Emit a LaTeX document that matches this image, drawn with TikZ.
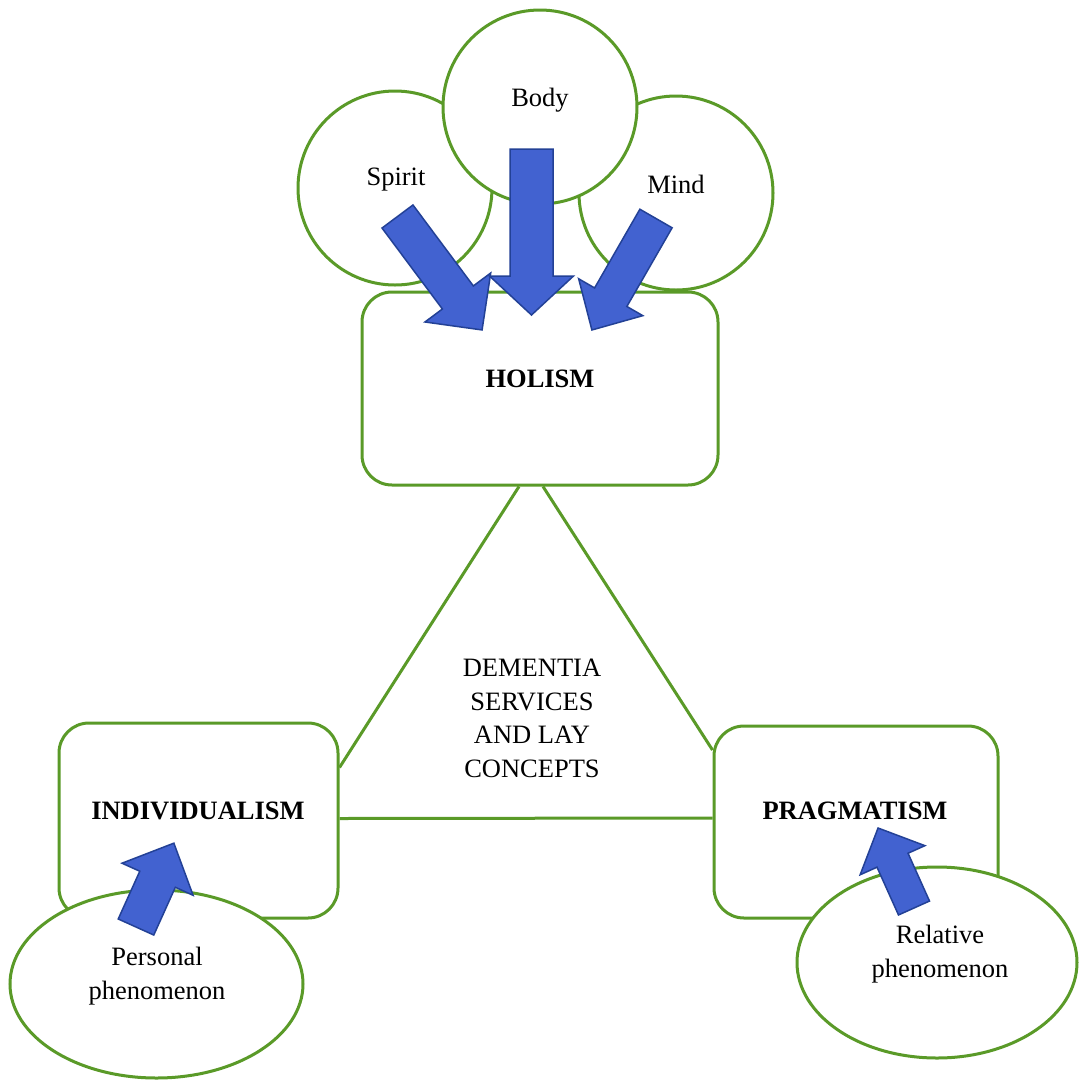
\documentclass[tikz,border=0pt]{standalone}
\usepackage{fontspec}
\setmainfont{Liberation Serif}
\usetikzlibrary{shapes.geometric}
\definecolor{lgreen}{RGB}{90,154,40}
\definecolor{arrfill}{RGB}{66,98,208}
\definecolor{arrline}{RGB}{35,65,150}

\tikzset{
  ring/.style={circle, draw=lgreen, line width=3pt, fill=white},
  rbox/.style={rectangle, rounded corners=30pt, draw=lgreen, line width=3pt, fill=white},
  oval/.style={ellipse, draw=lgreen, line width=3pt, fill=white},
  barrow/.style={fill=arrfill, draw=arrline, line width=1.5pt, line join=miter},
  lbl/.style={font=\fontsize{26.5}{33.7}\selectfont, inner sep=0pt, align=center}
}

% tail x, tail y, angle, length, shaft half width, head half width, head length
\newcommand{\blockarr}[7]{%
  \draw[barrow, shift={(#1,#2)}, rotate=#3]
    (0,-#5) -- ({#4-#7},-#5) -- ({#4-#7},-#6) -- (#4,0)
    -- ({#4-#7},#6) -- ({#4-#7},#5) -- (0,#5) -- cycle;}

\begin{document}
\begin{tikzpicture}[x=1pt, y=-1pt]
\useasboundingbox (0,0) rectangle (1079,1080);

\node[ring, minimum size=194pt] (spirit) at (395,188) {};
\node[ring, minimum size=194pt] (mind) at (676,193) {};
\node[ring, minimum size=194pt] (body) at (540,107) {};

\node[rbox, minimum width=356pt, minimum height=193pt] (holism) at (540,388.5) {};
\node[rbox, minimum width=279pt, minimum height=195pt] (indiv) at (198.5,820.5) {};
\node[rbox, minimum width=284pt, minimum height=192pt] (prag) at (856,822) {};

\draw[lgreen, line width=3pt] ([xshift=-21pt]holism.south) -- ([yshift=53pt]indiv.east);
\draw[lgreen, line width=3pt] ([xshift=3pt]holism.south) -- ([yshift=72pt]prag.west);
\draw[lgreen, line width=3pt] ([yshift=2pt]indiv.east) -- ([yshift=4pt]prag.west);

\node[oval, minimum width=293pt, minimum height=188pt] (personal) at (156.5,984) {};
\node[oval, minimum width=280pt, minimum height=191pt] (relative) at (937,962.5) {};

\blockarr{397.5}{216.5}{-53.3}{141.5}{19.3}{41}{40.5}
\blockarr{531.5}{149}{-90}{166}{21.5}{42}{39}
\blockarr{656}{218.5}{-119.9}{128.6}{18.6}{37}{37.8}
\blockarr{136}{927}{65.7}{92}{19.5}{39}{39.6}
\blockarr{914}{908}{114.2}{87.7}{17}{35.5}{35.3}

\node[lbl, anchor=base] (body-txt) at (540,106) {Body};
\node[lbl, anchor=base] (spirit-txt) at (396,185) {Spirit};
\node[lbl, anchor=base] (mind-txt) at (676,193) {Mind};
\node[lbl, anchor=base, font=\fontsize{26.5}{33.7}\selectfont\bfseries] (holism-txt) at (540,387) {HOLISM};
\node[lbl, anchor=base, font=\fontsize{26.5}{33.7}\selectfont\bfseries] (indiv-txt) at (198,819) {INDIVIDUALISM};
\node[lbl, anchor=base, font=\fontsize{26.5}{33.7}\selectfont\bfseries] (prag-txt) at (855,819) {PRAGMATISM};
\node[lbl] (dementia-txt) at (532,718.5) {DEMENTIA\\SERVICES\\AND LAY\\CONCEPTS};
\node[lbl] (personal-txt) at (157,976) {Personal\\phenomenon};
\node[lbl] (relative-txt) at (940,954) {Relative\\phenomenon};
\end{tikzpicture}
\end{document}
